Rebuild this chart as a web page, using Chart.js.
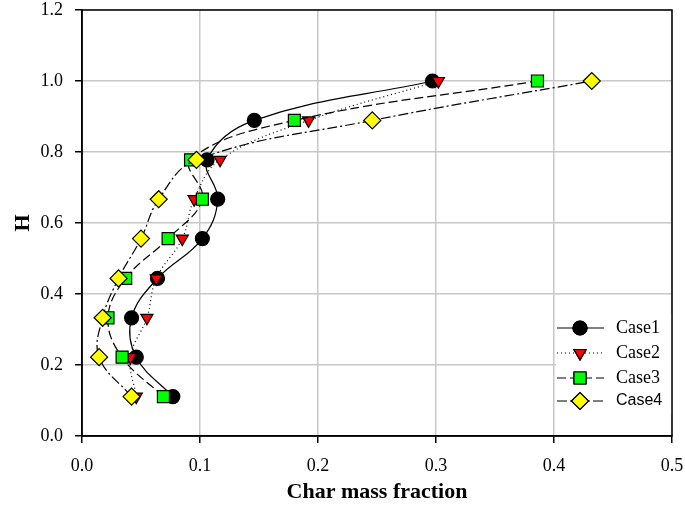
<!DOCTYPE html>
<html>
<head>
<meta charset="utf-8">
<script src="https://cdn.jsdelivr.net/npm/chart.js@4/dist/chart.umd.min.js"></script>
<style>
  html, body { margin: 0; padding: 0; background: #fff; }
  #wrap { width: 685px; height: 514px; }
</style>
</head>
<body>
<div id="wrap"><canvas id="chart"></canvas></div>
<script>
"use strict";

/**************************************************************
 * Data
 **************************************************************/
const heights = [0.111, 0.222, 0.333, 0.444, 0.556, 0.667, 0.778, 0.889, 1.0];

const case1 = [0.077, 0.046, 0.042, 0.064, 0.102, 0.115, 0.106, 0.146, 0.297];
const case2 = [0.046, 0.041, 0.055, 0.063, 0.085, 0.095, 0.117, 0.192, 0.302];
const case3 = [0.069, 0.034, 0.022, 0.037, 0.073, 0.102, 0.092, 0.180, 0.386];
const case4 = [0.042, 0.0145, 0.0175, 0.031, 0.050, 0.065, 0.097, 0.246, 0.432];

const seriesNames = ["Case1", "Case2", "Case3", "Case4"];

const xTicks = [0.0, 0.1, 0.2, 0.3, 0.4, 0.5];
const yTicks = [0.0, 0.2, 0.4, 0.6, 0.8, 1.0, 1.2];

/**************************************************************
 * Helpers
 **************************************************************/
function toPoints(values) {
  return values.map((x, i) => ({ x: x, y: heights[i] }));
}

const styles = [
  { dash: [], point: "circle", radius: 7, rotation: 0, fill: "#000000" },
  { dash: [1, 3], point: "triangle", radius: 7, rotation: 180, fill: "#ff0000" },
  { dash: [9, 4], point: "rect", radius: 8.5, rotation: 0, fill: "#00ff00" },
  { dash: [10, 3, 2, 3], point: "rectRot", radius: 8.5, rotation: 0, fill: "#ffff00" },
];

const allSeries = [case1, case2, case3, case4];

const datasets = allSeries.map((values, i) => ({
  label: seriesNames[i],
  data: toPoints(values),
  borderColor: "#000000",
  borderWidth: 1.2,
  borderDash: styles[i].dash,
  tension: 0.4,
  fill: false,
  pointStyle: styles[i].point,
  pointRadius: styles[i].radius,
  pointRotation: styles[i].rotation,
  pointBackgroundColor: styles[i].fill,
  pointBorderColor: "#000000",
  pointBorderWidth: 1.2,
  order: 4 - i,
}));

/**************************************************************
 * Plugins
 **************************************************************/
const legendBox = {
  id: "legendBox",
  afterDraw(chart) {
    const { ctx } = chart;
    const rows = [328, 353, 378, 401];
    ctx.save();
    ctx.fillStyle = "#ffffff";
    ctx.fillRect(556, 314, 116, 100);

    rows.forEach((y, i) => {
      const s = styles[i];
      ctx.strokeStyle = "#000000";
      ctx.lineWidth = 1.2;
      ctx.setLineDash(s.dash);
      ctx.beginPath();
      ctx.moveTo(557, y);
      ctx.lineTo(604, y);
      ctx.stroke();
      ctx.setLineDash([]);

      ctx.fillStyle = s.fill;
      Chart.helpers.drawPoint(ctx, {
        pointStyle: s.point,
        radius: s.radius,
        rotation: s.rotation,
        borderWidth: 1.2,
      }, 580, y);
      ctx.fill();
      ctx.stroke();

      ctx.fillStyle = "#000000";
      ctx.textBaseline = "middle";
      ctx.textAlign = "left";
      ctx.font = i === 3 ? "16px 'Liberation Sans'" : "18px 'Liberation Serif'";
      ctx.fillText(seriesNames[i], 616, y);
    });
    ctx.restore();
  },
};

const frame = {
  id: "frame",
  afterDraw(chart) {
    const { ctx, chartArea: a } = chart;
    ctx.save();
    ctx.strokeStyle = "#000000";
    ctx.lineWidth = 1.5;
    ctx.strokeRect(a.left, a.top, a.right - a.left, a.bottom - a.top);
    ctx.restore();
  },
};

/**************************************************************
 * Chart
 **************************************************************/
new Chart(document.getElementById("chart"), {
  type: "line",
  data: { datasets: datasets },
  options: {
    responsive: true,
    maintainAspectRatio: false,
    animation: false,
    layout: { padding: { top: 10, right: 13, left: 0, bottom: 0 } },
    plugins: {
      legend: { display: false },
      tooltip: { enabled: false },
    },
    scales: {
      x: {
        type: "linear",
        min: xTicks[0],
        max: xTicks[xTicks.length - 1],
        afterBuildTicks(axis) {
          axis.ticks = xTicks.map((v) => ({ value: v }));
        },
        afterFit(axis) {
          axis.height = 78;
          axis.paddingLeft = 0;
          axis.paddingRight = 0;
        },
        ticks: {
          color: "#000000",
          padding: 12,
          font: { family: "'Liberation Serif'", size: 18 },
          callback: (v) => Number(v).toFixed(1),
        },
        grid: {
          color: "#c8c8c8",
          lineWidth: 1.5,
          tickColor: "#000000",
          tickLength: 7,
        },
        border: { color: "#000000", width: 1.5 },
        title: {
          display: true,
          text: "Char mass fraction",
          color: "#000000",
          padding: { top: 0, bottom: 8 },
          font: { family: "'Liberation Serif'", size: 22, weight: "bold" },
        },
      },
      y: {
        type: "linear",
        min: yTicks[0],
        max: yTicks[yTicks.length - 1],
        afterBuildTicks(axis) {
          axis.ticks = yTicks.map((v) => ({ value: v }));
        },
        afterFit(axis) {
          axis.width = 82;
          axis.paddingTop = 0;
          axis.paddingBottom = 0;
        },
        ticks: {
          color: "#000000",
          padding: 12,
          font: { family: "'Liberation Serif'", size: 18 },
          callback: (v) => Number(v).toFixed(1),
        },
        grid: {
          color: "#c8c8c8",
          lineWidth: 1.5,
          tickColor: "#000000",
          tickLength: 7,
        },
        border: { color: "#000000", width: 1.5 },
        title: {
          display: true,
          text: "H",
          color: "#000000",
          padding: { top: 10, bottom: 0 },
          font: { family: "'Liberation Serif'", size: 22, weight: "bold" },
        },
      },
    },
  },
  plugins: [legendBox, frame],
});
</script>
</body>
</html>
